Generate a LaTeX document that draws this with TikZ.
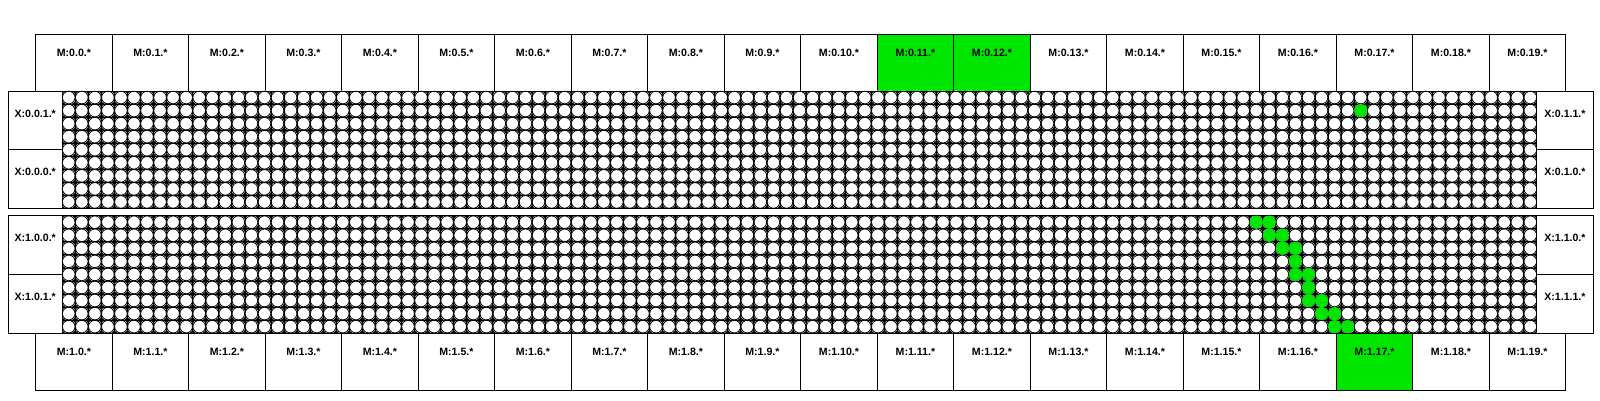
\documentclass[tikz,border=0pt]{standalone}
\usepackage{fontspec}
\setmainfont{Liberation Sans}
\usepackage{tikz}
\usetikzlibrary{positioning}
\definecolor{hitgreen}{RGB}{0,230,0}
\def\cellw{13.05}
\def\hitdot(#1)(#2,#3){\fill[hitgreen] ({62.2+(#2+0.5)*\cellw},{#1+(#3+0.5)*\cellw}) circle (6.6);}

\begin{document}
\begin{tikzpicture}[x=1pt, y=-1pt,
		box/.style={draw, line width=1pt, inner sep=0pt, outer sep=0pt},
		mbox/.style={box, minimum width=76.5pt, minimum height=57pt, anchor=north west},
		xbox/.style={box, minimum width=53.9pt, minimum height=58.7pt, anchor=north west},
		xboxr/.style={xbox, minimum width=56.15pt},
		lbl/.style={font=\fontsize{10.6}{12}\selectfont\bfseries, inner sep=0pt}]
			%%%%% START %%%%%
			
			\useasboundingbox (0, 0) rectangle (1600, 400);
			
			% memory boxes, top and bottom rows
			\foreach \i in {0,...,19}{
				\node[mbox] (m0-\i) at ({35.7+76.5*\i}, 34) {};
				\node[lbl, below=14.8pt of m0-\i.north] (t0-\i) {M:0.\i.*};
				\node[mbox] (m1-\i) at ({35.7+76.5*\i}, 333.15) {};
				\node[lbl, below=14.8pt of m1-\i.north] (t1-\i) {M:1.\i.*};
			}
			\draw[box, fill=hitgreen] (m0-11.north west) rectangle (m0-11.south east);
			\draw[box, fill=hitgreen] (m0-12.north west) rectangle (m0-12.south east);
			\draw[box, fill=hitgreen] (m1-17.north west) rectangle (m1-17.south east);
			\node[lbl] at (t0-11) {M:0.11.*};
			\node[lbl] at (t0-12) {M:0.12.*};
			\node[lbl] at (t1-17) {M:1.17.*};
			
			% two cell blocks
			\foreach \by in {91, 215.7}{
				\fill[black] (62.2, \by) rectangle ({62.2+113*\cellw}, {\by+9*\cellw});
				\foreach \c in {0,...,112}
					\foreach \r in {0,...,8}
						\fill[white] ({62.2+(\c+0.5)*\cellw}, {\by+(\r+0.5)*\cellw}) circle (7.1);
				\foreach \c in {0,...,113}
					\draw[line width=0.8pt] ({62.2+\c*\cellw}, \by) -- ({62.2+\c*\cellw}, {\by+9*\cellw});
				\foreach \r in {0,...,9}
					\draw[line width=0.8pt] (62.2, {\by+\r*\cellw}) -- ({62.2+113*\cellw}, {\by+\r*\cellw});
				\foreach \c in {0,...,112}
					\foreach \r in {0,...,8}
						\draw[line width=0.8pt, fill=white] ({62.2+(\c+0.5)*\cellw}, {\by+(\r+0.5)*\cellw}) circle (6.3);
				\draw[line width=1pt] (8.3, \by) rectangle (1593, {\by+9*\cellw});
			}
			
			% crossbar boxes
			\node[xbox] (x001) at (8.3, 91) {};
			\node[xbox] (x000) at (x001.south west) {};
			\node[xboxr] (x011) at (1536.85, 91) {};
			\node[xboxr] (x010) at (x011.south west) {};
			\node[xbox] (x100) at (8.3, 215.7) {};
			\node[xbox] (x101) at (x100.south west) {};
			\node[xboxr] (x110) at (1536.85, 215.7) {};
			\node[xboxr] (x111) at (x110.south west) {};
			\node[lbl, below=18.6pt of x001.north] {X:0.0.1.*};
			\node[lbl, below=18.6pt of x000.north] {X:0.0.0.*};
			\node[lbl, below=18.6pt of x011.north] {X:0.1.1.*};
			\node[lbl, below=18.6pt of x010.north] {X:0.1.0.*};
			\node[lbl, below=18.6pt of x100.north] {X:1.0.0.*};
			\node[lbl, below=18.6pt of x101.north] {X:1.0.1.*};
			\node[lbl, below=18.6pt of x110.north] {X:1.1.0.*};
			\node[lbl, below=18.6pt of x111.north] {X:1.1.1.*};
			
			% used cells
			\hitdot(91)(99,1);
			\hitdot(215.7)(91,0); \hitdot(215.7)(92,0);
			\hitdot(215.7)(92,1); \hitdot(215.7)(93,1);
			\hitdot(215.7)(93,2); \hitdot(215.7)(94,2);
			\hitdot(215.7)(94,3);
			\hitdot(215.7)(94,4); \hitdot(215.7)(95,4);
			\hitdot(215.7)(95,5);
			\hitdot(215.7)(95,6); \hitdot(215.7)(96,6);
			\hitdot(215.7)(96,7); \hitdot(215.7)(97,7);
			\hitdot(215.7)(97,8); \hitdot(215.7)(98,8);
			
			%%%%% END %%%%%
		\end{tikzpicture}
\end{document}
